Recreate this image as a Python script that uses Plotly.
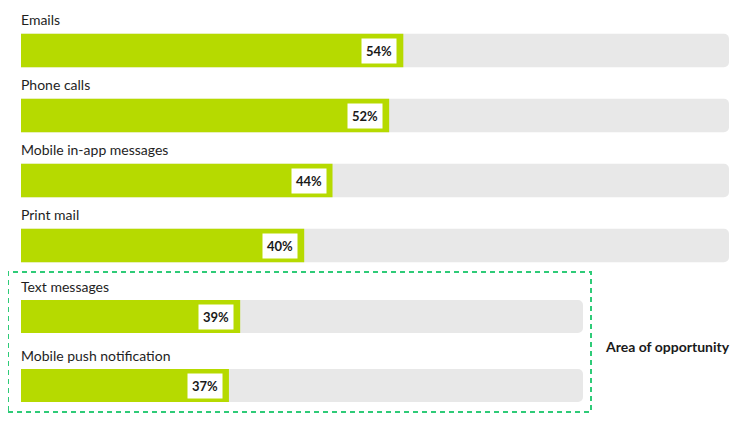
import plotly.graph_objects as go

# channels shown on the full-width scale
top_channels = ["Emails", "Phone calls", "Mobile in-app messages", "Print mail"]
top_values = [54, 52, 44, 40]

# channels inside the "area of opportunity" box
opp_channels = ["Text messages", "Mobile push notification"]
opp_values = [39, 37]

full_scale = [100, 100]

GREEN = "#b6da00"
TRACK = "#e8e8e8"
TEXT = "#1e1e1e"
FONT = "Lato"

W, H = 750, 422
OFF = 8  # page body margin


def px_x(p):
    return (p - OFF) / W


def px_y(p):
    return 1 - (p - OFF) / H


fig = go.Figure()

# background tracks (100%) and filled bars
for names, vals, xa, ya, bw in [
    (top_channels, top_values, "x", "y", 0.515),
    (opp_channels, opp_values, "x2", "y2", 0.478),
]:
    fig.add_trace(go.Bar(
        x=[full_scale[0]] * len(names), y=names, orientation="h",
        xaxis=xa, yaxis=ya, width=bw,
        marker=dict(color=TRACK, cornerradius=5, line=dict(width=0)),
        hoverinfo="skip", showlegend=False,
    ))
    fig.add_trace(go.Bar(
        x=vals, y=names, orientation="h",
        xaxis=xa, yaxis=ya, width=bw,
        marker=dict(color=GREEN, cornerradius=5, line=dict(width=0)),
        hovertemplate="%{y}: %{x}%<extra></extra>", showlegend=False,
    ))

annotations = []
for names, vals, xref, yref, shift in [
    (top_channels, top_values, "x", "y", 31),
    (opp_channels, opp_values, "x2", "y2", 30),
]:
    for name, v in zip(names, vals):
        # channel label above the bar
        annotations.append(dict(
            x=px_x(19), xref="paper", y=name, yref=yref, yshift=shift,
            text=name, showarrow=False, xanchor="left", yanchor="middle",
            font=dict(family=FONT, size=14, color=TEXT),
        ))
        # value badge at the bar end
        annotations.append(dict(
            x=v, xref=xref, y=name, yref=yref, xshift=-6,
            text=f"<b>{v}%</b>", showarrow=False, xanchor="right", yanchor="middle",
            bgcolor="white", borderpad=4,
            font=dict(family=FONT, size=13, color="#1a1a1a"),
        ))

annotations.append(dict(
    x=px_x(603), xref="paper", y=px_y(346), yref="paper",
    text="<b>Area of opportunity</b>", showarrow=False,
    xanchor="left", yanchor="middle",
    font=dict(family=FONT, size=14, color="#1a1a1a"),
))

fig.add_shape(
    type="rect", xref="paper", yref="paper",
    x0=px_x(8), x1=px_x(591), y0=px_y(412), y1=px_y(272),
    line=dict(color="#2ecb78", width=2, dash="5px,4px"),
    fillcolor="rgba(0,0,0,0)", layer="below",
)

axis_off = dict(visible=False, showgrid=False, zeroline=False, fixedrange=True)
fig.update_layout(
    width=W, height=H,
    margin=dict(l=0, r=0, t=0, b=0),
    paper_bgcolor="white", plot_bgcolor="white",
    barmode="overlay",
    annotations=annotations,
    xaxis=dict(domain=[px_x(21), px_x(729)], range=[0, 100], anchor="y", **axis_off),
    yaxis=dict(domain=[px_y(278), px_y(18)], type="category",
               categoryarray=top_channels, range=[3.5, -0.5], anchor="x", **axis_off),
    xaxis2=dict(domain=[px_x(21), px_x(583)], range=[0, 100], anchor="y2", **axis_off),
    yaxis2=dict(domain=[px_y(420), px_y(282)], type="category",
                categoryarray=opp_channels, range=[1.5, -0.5], anchor="x2", **axis_off),
    font=dict(family=FONT),
)

fig.write_html("out.html", config={"displayModeBar": False})
